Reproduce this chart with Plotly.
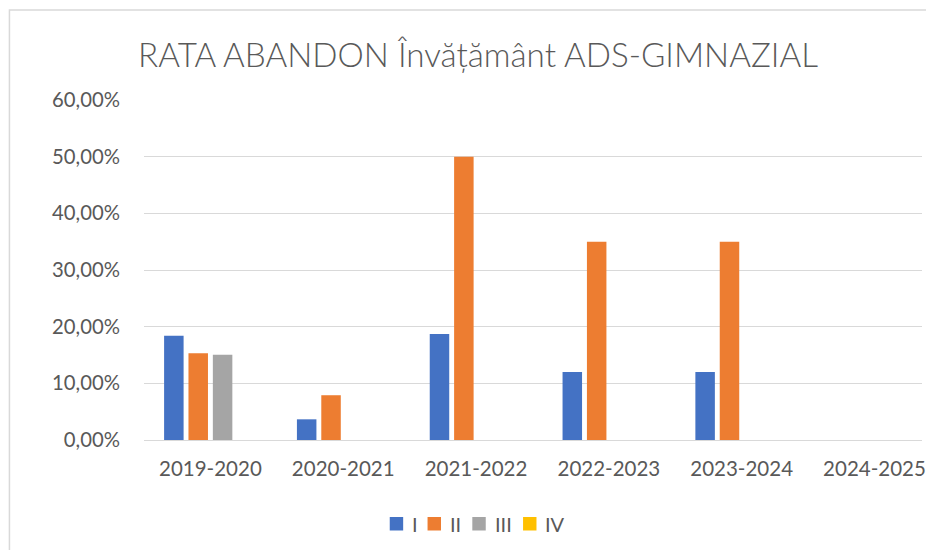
import plotly.graph_objects as go

categories = ["2019-2020", "2020-2021", "2021-2022", "2022-2023", "2023-2024", "2024-2025"]
series_names = ["I", "II", "III", "IV"]
values_I = [0.184, 0.0365, 0.187, 0.12, 0.12, None]
values_II = [0.153, 0.079, 0.50, 0.35, 0.35, None]
values_III = [0.1505, None, None, None, None, None]
values_IV = [None, None, None, None, None, None]
colors = ["#4472C4", "#ED7D31", "#A5A5A5", "#FFC000"]
y_ticks = [0, 0.1, 0.2, 0.3, 0.4, 0.5, 0.6]

# The page has an 8px body margin: figure coords = page coords - 8
OFF = 8
W, H = 934 - 2 * OFF, 558 - 2 * OFF
PL, PR, PT, PB = 144, OFF + W, 100, 440  # plot area in page coordinates
CAT_PX = 133.5  # pixels per category


def px(xp):
    return (xp - PL) / (PR - PL)


def py(yp):
    return (PB - yp) / (PB - PT)


fig = go.Figure()
for name, vals, col in zip(series_names, [values_I, values_II, values_III, values_IV], colors):
    fig.add_trace(go.Bar(name=name, x=categories, y=vals, marker_color=col,
                         marker_line_width=0, showlegend=False))

font = "Lato, Liberation Sans, sans-serif"
txt = "#595959"

# manual legend (square + label)
leg_sq = [391, 429, 474, 525]
leg_tx = [411, 450, 495, 545]
shapes = [dict(type="rect", xref="paper", yref="paper",
               x0=px(OFF + 0.75), x1=px(OFF + W + 20), y0=py(OFF + H + 20), y1=py(10),
               line=dict(color="#D9D9D9", width=1.5), fillcolor="rgba(0,0,0,0)",
               layer="below")]
annotations = []
for name, col, sx, tx in zip(series_names, colors, leg_sq, leg_tx):
    shapes.append(dict(type="rect", xref="paper", yref="paper",
                       x0=px(sx), x1=px(sx + 13.5), y0=py(530.5), y1=py(517),
                       line=dict(width=0), fillcolor=col))
    annotations.append(dict(text=name, xref="paper", yref="paper", x=px(tx), y=py(524),
                            xanchor="left", yanchor="middle", showarrow=False,
                            font=dict(family=font, size=20, color=txt)))

fig.update_layout(
    width=W, height=H,
    margin=dict(l=PL - OFF, r=0, t=PT - OFF, b=H - (PB - OFF)),
    paper_bgcolor="white", plot_bgcolor="white",
    separators=",.",
    barmode="group", bargap=0.266, bargroupgap=0.2,
    showlegend=False,
    title=dict(text="RATA ABANDON Învățământ ADS-GIMNAZIAL",
               font=dict(family=font, size=33.2, color=txt, weight=300),
               x=(478 - OFF) / W, xanchor="center", y=1 - (55 - OFF) / H, yanchor="middle"),
    font=dict(family=font, color=txt, size=20),
    xaxis=dict(range=[-0.5, -0.5 + (PR - PL) / CAT_PX], showgrid=False, showline=False, ticks="",
               ticklabelstandoff=14,
               tickfont=dict(size=20.5, color=txt)),
    yaxis=dict(range=[0, 0.6], tickvals=y_ticks, tickformat=".2%",
               showgrid=True, gridcolor="#D9D9D9", gridwidth=1,
               zeroline=True, zerolinecolor="#D9D9D9", zerolinewidth=1,
               showline=False, ticks="", ticklabelstandoff=23,
               tickfont=dict(size=20.3, color=txt)),
    shapes=shapes,
    annotations=annotations,
)

fig.write_html("out.html")
